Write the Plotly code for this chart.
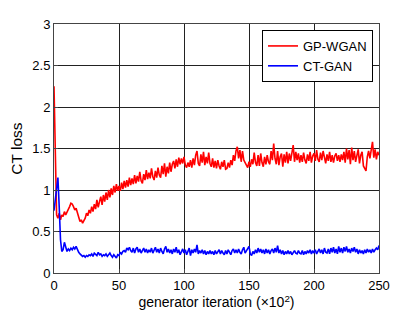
import plotly.graph_objects as go

iterations = list(range(0, 251))

gp_wgan = [
    2.25, 1.30, 0.70, 0.66, 0.72, 0.64, 0.70, 0.68, 0.74, 0.70,
    0.73, 0.76, 0.80, 0.84, 0.83, 0.80, 0.76, 0.78, 0.72, 0.66,
    0.62, 0.64, 0.60, 0.63, 0.66, 0.72, 0.69, 0.76, 0.72, 0.80,
    0.74, 0.83, 0.77, 0.88, 0.79, 0.86, 0.92, 0.82, 0.94, 0.86,
    0.97, 0.88, 1.00, 0.91, 1.02, 0.94, 1.05, 0.97, 1.07, 0.99,
    1.05, 0.99, 1.09, 1.01, 1.11, 1.03, 1.12, 1.04, 1.15, 1.06,
    1.14, 1.07, 1.18, 1.08, 1.17, 1.10, 1.22, 1.11, 1.08, 1.19,
    1.12, 1.24, 1.13, 1.21, 1.14, 1.26, 1.16, 1.12, 1.23, 1.15,
    1.27, 1.18, 1.15, 1.29, 1.19, 1.32, 1.16, 1.28, 1.20, 1.33,
    1.22, 1.31, 1.35, 1.26, 1.37, 1.28, 1.39, 1.31, 1.38, 1.32,
    1.40, 1.30, 1.27, 1.33, 1.28, 1.36, 1.27, 1.38, 1.30, 1.42,
    1.47, 1.32, 1.29, 1.43, 1.33, 1.46, 1.30, 1.40, 1.32, 1.45,
    1.32, 1.28, 1.38, 1.27, 1.35, 1.26, 1.36, 1.29, 1.25, 1.34,
    1.28, 1.36, 1.25, 1.26, 1.33, 1.27, 1.36, 1.30, 1.42, 1.35,
    1.47, 1.52, 1.38, 1.48, 1.34, 1.47, 1.36, 1.33, 1.29, 1.27,
    1.34, 1.28, 1.37, 1.31, 1.45, 1.33, 1.29, 1.42, 1.29, 1.44,
    1.33, 1.28, 1.40, 1.31, 1.42, 1.34, 1.31, 1.47, 1.36, 1.56,
    1.38, 1.31, 1.47, 1.30, 1.40, 1.44, 1.28, 1.43, 1.33, 1.46,
    1.32, 1.44, 1.35, 1.48, 1.54, 1.34, 1.46, 1.36, 1.44, 1.33,
    1.42, 1.34, 1.45, 1.36, 1.32, 1.43, 1.35, 1.46, 1.33, 1.41,
    1.44, 1.35, 1.48, 1.37, 1.34, 1.45, 1.36, 1.47, 1.38, 1.32,
    1.43, 1.35, 1.46, 1.34, 1.42, 1.33, 1.41, 1.44, 1.35, 1.42,
    1.34, 1.43, 1.36, 1.46, 1.33, 1.50, 1.37, 1.48, 1.31, 1.51,
    1.36, 1.47, 1.34, 1.44, 1.49, 1.32, 1.42, 1.46, 1.29, 1.26,
    1.23, 1.40, 1.47, 1.38, 1.52, 1.58, 1.39, 1.49, 1.37, 1.46,
    1.42,
]

ct_gan = [
    0.75, 0.90, 1.05, 1.15, 0.80, 0.40, 0.26, 0.28, 0.37, 0.30,
    0.26, 0.29, 0.27, 0.30, 0.28, 0.31, 0.29, 0.32, 0.27, 0.25,
    0.23, 0.22, 0.20, 0.21, 0.19, 0.21, 0.20, 0.22, 0.21, 0.23,
    0.20, 0.24, 0.22, 0.21, 0.25, 0.22, 0.23, 0.20, 0.22, 0.21,
    0.23, 0.20, 0.22, 0.24, 0.21, 0.19, 0.22, 0.20, 0.18, 0.22,
    0.21, 0.25, 0.23, 0.26, 0.27, 0.25, 0.30, 0.28, 0.31, 0.27,
    0.25, 0.30, 0.24, 0.29, 0.31, 0.25, 0.29, 0.24, 0.28, 0.30,
    0.25, 0.29, 0.24, 0.28, 0.25, 0.30, 0.24, 0.29, 0.31, 0.25,
    0.29, 0.24, 0.30, 0.26, 0.23, 0.29, 0.32, 0.25, 0.29, 0.24,
    0.28, 0.23, 0.29, 0.25, 0.31, 0.24, 0.28, 0.22, 0.27, 0.29,
    0.24, 0.28, 0.22, 0.27, 0.30, 0.21, 0.28, 0.24, 0.29, 0.25,
    0.34, 0.23, 0.27, 0.24, 0.28, 0.23, 0.27, 0.22, 0.26, 0.23,
    0.27, 0.23, 0.26, 0.22, 0.27, 0.23, 0.26, 0.28, 0.23, 0.27,
    0.24, 0.22, 0.27, 0.23, 0.28, 0.24, 0.22, 0.27, 0.29, 0.24,
    0.28, 0.24, 0.29, 0.25, 0.23, 0.28, 0.31, 0.24, 0.27, 0.29,
    0.32, 0.23, 0.21, 0.26, 0.23, 0.28, 0.24, 0.30, 0.25, 0.29,
    0.24, 0.28, 0.23, 0.29, 0.24, 0.28, 0.23, 0.27, 0.29, 0.24,
    0.30, 0.25, 0.33, 0.24, 0.28, 0.23, 0.27, 0.22, 0.26, 0.23,
    0.27, 0.23, 0.26, 0.22, 0.25, 0.27, 0.24, 0.23, 0.27, 0.24,
    0.23, 0.27, 0.22, 0.26, 0.23, 0.27, 0.24, 0.28, 0.23, 0.27,
    0.24, 0.28, 0.23, 0.27, 0.29, 0.24, 0.28, 0.23, 0.30, 0.25,
    0.24, 0.29, 0.23, 0.30, 0.25, 0.31, 0.24, 0.29, 0.23, 0.32,
    0.25, 0.30, 0.24, 0.31, 0.26, 0.32, 0.25, 0.29, 0.24, 0.30,
    0.26, 0.31, 0.25, 0.29, 0.23, 0.28, 0.24, 0.27, 0.23, 0.28,
    0.24, 0.29, 0.25, 0.28, 0.24, 0.29, 0.25, 0.28, 0.30, 0.28,
    0.33,
]

x_ticks = [0, 50, 100, 150, 200, 250]
y_ticks = [0, 0.5, 1, 1.5, 2, 2.5, 3]
y_tick_labels = ["0", "0.5", "1", "1.5", "2", "2.5", "3"]

fig = go.Figure()
fig.add_trace(go.Scatter(x=iterations, y=gp_wgan, mode="lines", name="GP-WGAN",
                         line=dict(color="#ff0000", width=1.6)))
fig.add_trace(go.Scatter(x=iterations, y=ct_gan, mode="lines", name="CT-GAN",
                         line=dict(color="#0000ff", width=1.6)))

family = "Liberation Sans, Arial, sans-serif"
font = dict(family=family, size=13, color="#000000")

# the page adds an 8px body margin, so the figure is 8px smaller and margins shifted
fig.update_layout(
    width=412, height=307,
    margin=dict(l=46, r=41, t=16, b=42, autoexpand=False),
    paper_bgcolor="white", plot_bgcolor="white",
    font=font,
    showlegend=True,
    legend=dict(x=0.64, y=0.976, xanchor="left", yanchor="top",
                bgcolor="white", bordercolor="black", borderwidth=1,
                font=dict(family=family, size=13, color="#000000"),
                tracegroupgap=0, itemwidth=30),
)
fig.update_xaxes(
    range=[0, 250], tickvals=x_ticks, ticks="inside", ticklen=4,
    tickfont=dict(family=family, size=13, color="#000000"),
    showgrid=True, gridcolor="#222222", gridwidth=1,
    showline=True, linecolor="#444444", linewidth=1, mirror=True,
    zeroline=False, automargin=False,
    title=dict(text="generator iteration (×10<sup>2</sup>)", standoff=2,
               font=dict(family=family, size=14, color="#000000")),
)
fig.update_yaxes(
    range=[0, 3], tickvals=y_ticks, ticktext=y_tick_labels, ticks="inside", ticklen=4,
    tickfont=dict(family=family, size=13, color="#000000"),
    showgrid=True, gridcolor="#222222", gridwidth=1,
    showline=True, linecolor="#444444", linewidth=1, mirror=True,
    zeroline=False, automargin=False,
    title=dict(text="CT loss", standoff=6,
               font=dict(family=family, size=15.5, color="#000000")),
)

fig.write_html("out.html")
